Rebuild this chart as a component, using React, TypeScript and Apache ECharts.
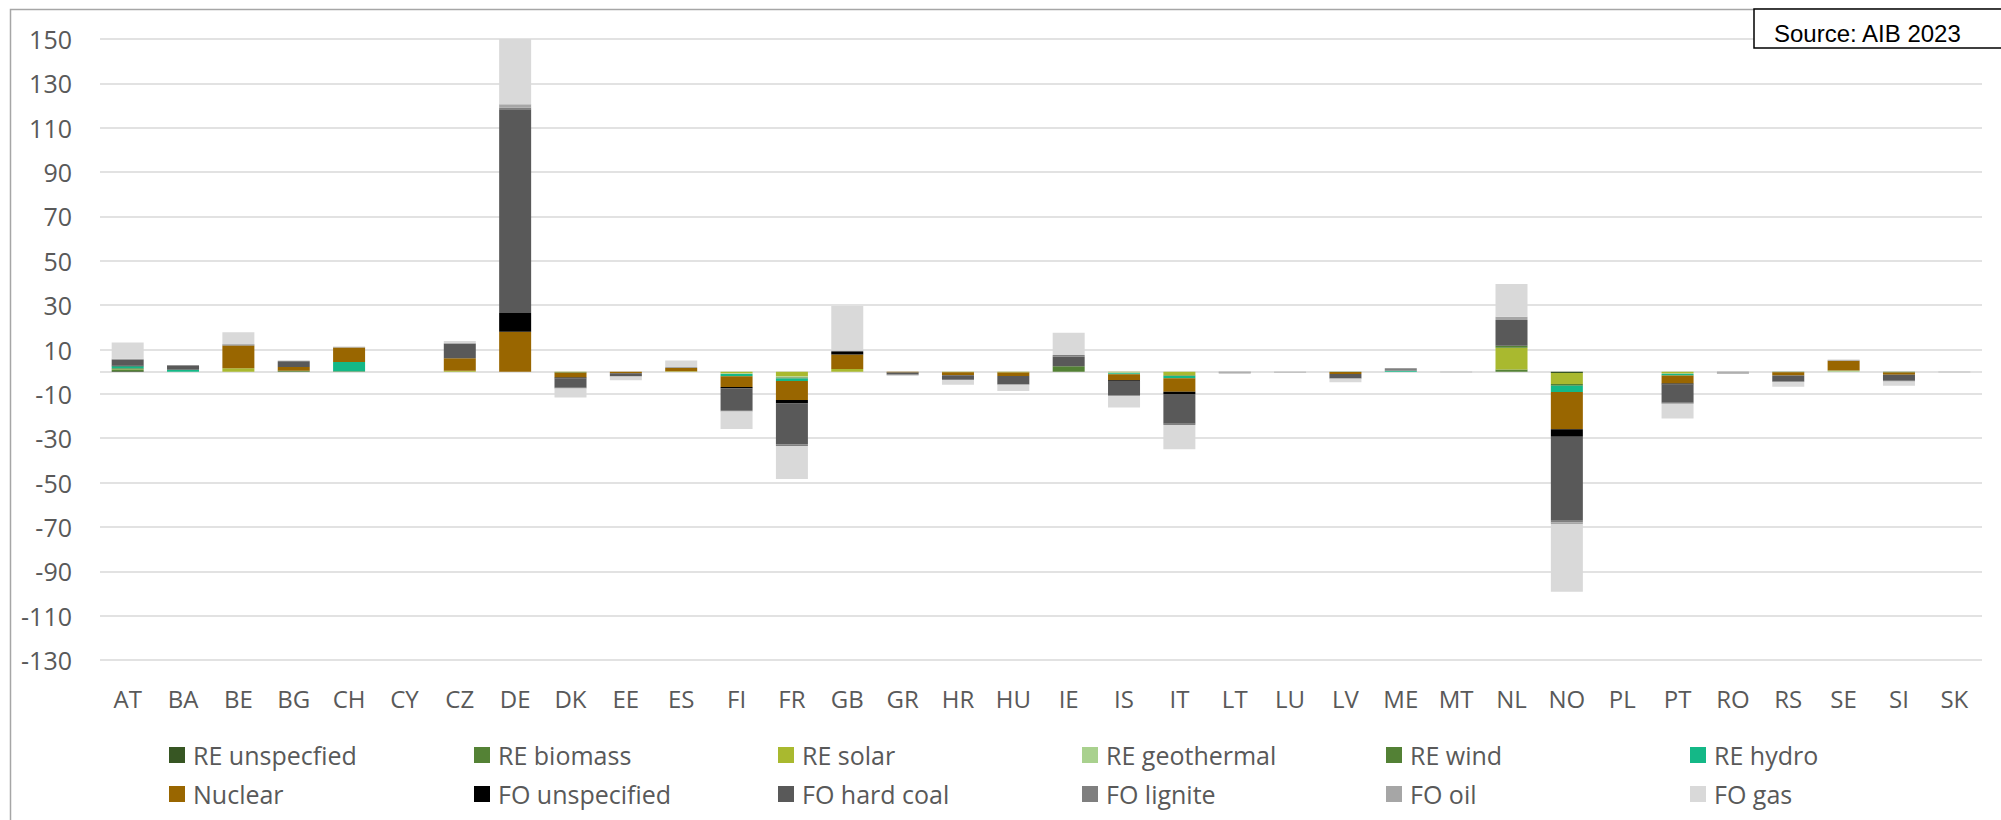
import React, { useEffect, useRef } from "react";
import * as echarts from "echarts";

const categories = ["AT","BA","BE","BG","CH","CY","CZ","DE","DK","EE","ES","FI","FR","GB","GR","HR","HU","IE","IS","IT","LT","LU","LV","ME","MT","NL","NO","PL","PT","RO","RS","SE","SI","SK"];

const yTicks = [-130, -110, -90, -70, -50, -30, -10, 10, 30, 50, 70, 90, 110, 130, 150];

//                        AT   BA   BE   BG   CH   CY   CZ   DE   DK    EE    ES   FI    FR    GB   GR    HR    HU    IE   IS    IT    LT    LU    LV    ME   MT    NL   NO     PL  PT    RO    RS    SE   SI    SK
const reUnspecified = [  0.3,   0,   0,   0,   0,   0,   0,   0,    0,    0,   0,    0,    0,   0,    0,    0,    0,   0,    0,    0,    0,    0,    0,   0,    0,   0, -0.6,  0,    0,    0,    0,   0,    0,    0];
const reBiomass =     [  0.5,   0,   0,   0, 0.2,   0,   0,   0,    0,    0,   0,    0,    0,   0,    0,    0,    0,   0,    0,    0,    0,    0,    0,   0,    0, 1.0,    0,  0,    0,    0,    0,   0,    0,    0];
const reSolar =       [  0.2,   0, 1.6,   0,   0,   0, 0.4,   0, -0.3,    0, 0.2, -0.7, -2.2, 1.2,    0, -0.3, -0.4,   0, -0.3, -1.7,    0,    0,    0,   0,    0, 9.8, -4.9,  0, -0.6,    0,    0,   0,    0,    0];
const reGeothermal =  [    0,   0,   0,   0,   0,   0,   0,   0,    0,    0,   0, -0.4, -0.4,   0,    0,    0,    0,   0, -0.4,    0,    0,    0,    0,   0,    0,   0,    0,  0, -0.4,    0,    0, 0.5,    0,    0];
const reWind =        [  0.5,   0,   0, 0.4,   0,   0,   0,   0, -0.2,    0,   0,    0, -0.5,   0,    0,    0,    0, 2.5,    0, -0.3,    0,    0, -0.2,   0,    0, 0.9, -0.9,  0,    0,    0, -0.3,   0, -0.4,    0];
const reHydro =       [  0.9, 0.9,   0,   0, 4.2,   0,   0,   0,    0,    0,   0, -1.0, -1.1,   0,    0,    0,    0,   0, -0.5, -1.0,    0,    0,    0, 0.4,    0,   0, -2.8,  0, -0.7,    0,    0,   0,    0,    0];
const nuclear =       [    0,   0,10.2, 1.7, 6.5,   0, 5.7,18.0, -2.1, -0.7, 1.5, -4.8, -8.6, 6.6, -0.4, -1.3, -1.6,   0, -2.7, -6.1,    0,    0, -0.8,   0,    0,   0,-16.8,  0, -3.6,    0, -1.4, 4.4, -1.0,    0];
const foUnspecified = [  0.3,   0,   0,   0,   0,   0,   0, 8.5, -0.4,    0,   0, -0.6, -1.5, 1.1,    0,    0,    0,   0, -0.3, -1.0,    0,    0,    0,   0,    0,   0, -3.3,  0, -0.5,    0,    0,   0,    0,    0];
const foHardCoal =    [  2.6, 1.8,   0, 2.3,   0,   0, 6.4,91.8, -4.2, -1.3,   0, -9.8,-18.5, 0.4, -1.0, -2.0, -3.6, 4.2, -6.4,-13.4,    0,    0, -2.0,   0,    0,11.6,-37.9,  0, -8.2,    0, -2.6,   0, -2.7,    0];
const foLignite =     [  0.3, 0.3, 0.4, 0.5,   0,   0, 0.3, 0.7, -0.4,    0,   0, -0.7, -0.7,   0,    0, -0.3, -0.3, 0.8, -0.5, -0.5, -0.3,    0, -0.2, 1.1,    0,   0, -0.8,  0, -0.5, -0.3, -0.4,   0, -0.3,    0];
const foOil =         [  0.2,   0, 0.3,   0, 0.3,   0,   0, 1.6,    0, -0.3, 0.4,    0,    0, 0.3,    0,    0,    0,   0,    0,    0, -0.5, -0.4,    0,   0, -0.3, 1.5, -0.7,  0,    0, -0.6,    0, 0.5,    0, -0.3];
const foGas =         [  7.4,   0, 5.3,   0,   0,   0, 1.0,29.4, -4.0, -1.6, 2.9, -7.9,-14.9,20.0, -0.6, -2.0, -2.8,10.0, -5.0,-11.0,    0,    0, -1.6,   0,    0,14.7,-30.5,  0, -6.6,    0, -2.1,   0, -2.0,    0];

const seriesNames = ["RE unspecfied","RE biomass","RE solar","RE geothermal","RE wind","RE hydro","Nuclear","FO unspecified","FO hard coal","FO lignite","FO oil","FO gas"];
const seriesColors = ["#375623","#548235","#a9b92f","#a9d18e","#538135","#14b887","#996600","#000000","#595959","#7f7f7f","#a6a6a6","#d9d9d9"];
const seriesData = [reUnspecified, reBiomass, reSolar, reGeothermal, reWind, reHydro, nuclear, foUnspecified, foHardCoal, foLignite, foOil, foGas];

const legendCols = [169, 474, 778, 1082, 1386, 1690];
const legendRows = [742, 781];

export default function App() {
  const ref = useRef<HTMLDivElement>(null);
  useEffect(() => {
    document.body.style.margin = "0";
    const chart = echarts.init(ref.current!, null, { renderer: "svg" });
    const font = "'Open Sans', 'Noto Sans', sans-serif";
    const series = seriesNames.map((name, i) => ({
      name,
      type: "bar",
      stack: "total",
      barWidth: 32,
      itemStyle: { color: seriesColors[i] },
      emphasis: { disabled: true },
      data: seriesData[i],
      ...(i === 0
        ? {
            markLine: {
              silent: true,
              symbol: "none",
              label: { show: false },
              lineStyle: { color: "#d9d9d9", type: "solid", width: 1.5 },
              data: [{ yAxis: 0 }],
              z: 1,
            },
          }
        : {}),
    }));
    const legends = seriesNames.map((name, i) => ({
      show: true,
      left: legendCols[i % 6],
      top: legendRows[Math.floor(i / 6)],
      padding: 0,
      itemWidth: 16,
      itemHeight: 16,
      icon: "rect",
      selectedMode: false,
      data: [name],
      textStyle: { fontFamily: font, fontSize: 25, color: "#595959", lineHeight: 26, padding: [0, 0, 0, 3] },
    }));
    chart.setOption({
      animation: false,
      backgroundColor: "#ffffff",
      grid: { left: 100, right: 19, top: 39, bottom: 160, containLabel: false },
      xAxis: {
        type: "category",
        data: categories,
        position: "bottom",
        axisLine: { show: false, onZero: false },
        axisTick: { show: false },
        axisLabel: { fontFamily: font, fontSize: 24, color: "#595959", margin: 26, interval: 0 },
        splitLine: { show: false },
      },
      yAxis: {
        type: "value",
        min: -130,
        max: 150,
        axisLine: { show: false },
        axisTick: { show: false, customValues: yTicks },
        axisLabel: { fontFamily: font, fontSize: 25, color: "#595959", margin: 28, customValues: yTicks },
        splitLine: { show: true, lineStyle: { color: "#d9d9d9", width: 1.5 } },
      },
      legend: legends,
      graphic: [
        {
          type: "rect",
          shape: { x: 10.5, y: 9.5, width: 2100, height: 900 },
          style: { fill: "none", stroke: "#a6a6a6", lineWidth: 1.5 },
          silent: true,
          z: 100,
        },
        {
          type: "rect",
          shape: { x: 1754, y: 9, width: 300, height: 39 },
          style: { fill: "#ffffff", stroke: "#000000", lineWidth: 1.5 },
          silent: true,
          z: 101,
        },
        {
          type: "text",
          x: 1774,
          y: 33,
          style: { text: "Source: AIB 2023", font: "24px 'Liberation Sans', Arial, sans-serif", fill: "#000000", verticalAlign: "middle", align: "left" },
          silent: true,
          z: 102,
        },
      ],
      series,
    });
    return () => chart.dispose();
  }, []);
  return <div ref={ref} style={{ width: 2001, height: 820 }} />;
}
